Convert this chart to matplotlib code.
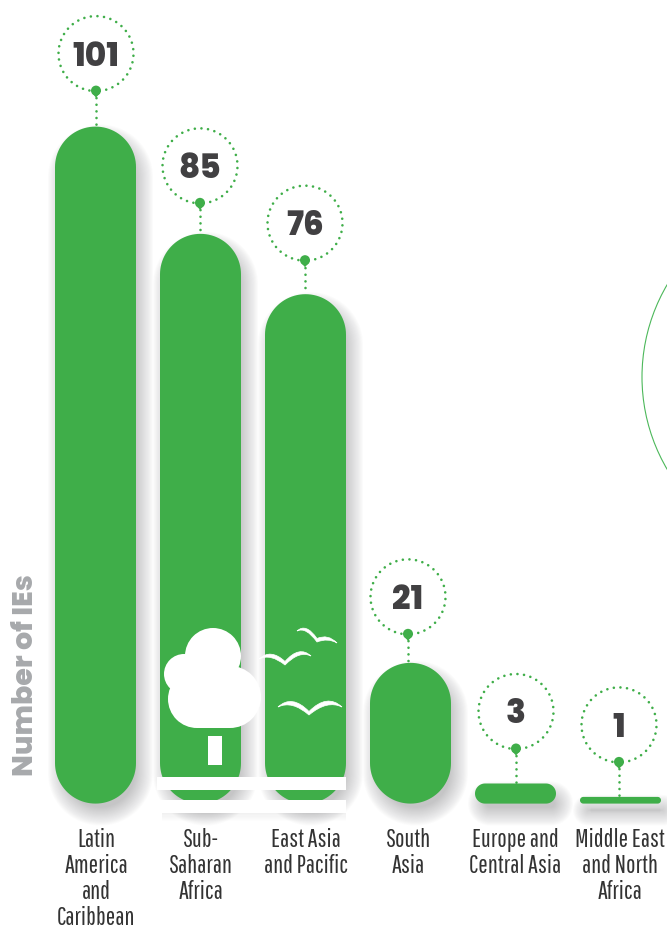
import numpy as np
import matplotlib
matplotlib.use("Agg")
import matplotlib.pyplot as plt
from matplotlib.path import Path
from matplotlib.patches import PathPatch, Circle, Rectangle, Polygon
from matplotlib.transforms import Affine2D

categories = ["Latin\nAmerica\nand\nCaribbean", "Sub-\nSaharan\nAfrica", "East Asia\nand Pacific",
              "South\nAsia", "Europe and\nCentral Asia", "Middle East\nand North\nAfrica"]
values = [101, 85, 76, 21, 3, 1]
y_label = "Number of IEs"

# layout (pixels)
W, H = 667, 928
BASE_PY = 804.6
PX_PER_UNIT = 6.703
PX_PER_CAT = 105
callout_dy = [73, 68, 71, 66, 72, 72]   # bar top to bubble centre
callout_dx = [0.5, -0.5, -0.5, -2.5, 0.5, -1.5]
label_dx = [0.5, 0.5, 0.5, -2.5, -0.5, -1]
GREEN = "#3fae49"
DARK = "#414042"
GREY = "#a7a9ac"
BAR_W = 81
R = 37.5
HEAVY = ["Poppins", "Montserrat", "Lato", "DejaVu Sans"]
NARROW = ["Pathway Gothic One", "Abel", "Archivo Narrow", "Liberation Sans", "DejaVu Sans"]

fig = plt.figure(figsize=(W / 100, H / 100), dpi=100, facecolor="white")
ax = fig.add_axes([0, (H - BASE_PY) / H, 1, BASE_PY / H])
x0 = 95.5 / PX_PER_CAT
ax.set_xlim(-x0, (W - 95.5) / PX_PER_CAT)
ax.set_ylim(0, BASE_PY / PX_PER_UNIT)
for s in ax.spines.values():
    s.set_visible(False)
ax.set_yticks([])
ax.patch.set_alpha(0)
px = Affine2D().scale(1, -1).translate(0, H)


def rounded(xc, top, width_px, grow=0.0, dx=0.0, dy=0.0):
    """Rounded bar outline in data units; grow/dx/dy in pixels."""
    hx = (width_px / 2 + grow) / PX_PER_CAT
    ux, uy = 1 / PX_PER_CAT, 1 / PX_PER_UNIT
    yb = -(grow + dy) * uy
    yt = top + (grow - dy) * uy
    r = min((width_px / 2 + grow), (yt - yb) / uy / 2)
    r = max(r, 0.5)
    xc = xc + dx * ux
    th = np.linspace(0, np.pi / 2, 24)
    rx, ry = r * ux, r * uy
    pts = []
    pts += list(zip(xc + hx - rx + rx * np.cos(th), yt - ry + ry * np.sin(th)))
    pts += list(zip(xc - hx + rx - rx * np.sin(th), yt - ry + ry * np.cos(th)))
    pts += list(zip(xc - hx + rx - rx * np.cos(th), yb + ry - ry * np.sin(th)))
    pts += list(zip(xc + hx - rx + rx * np.sin(th), yb + ry - ry * np.cos(th)))
    return Path(np.array(pts + [pts[0]]), closed=True)


# soft shadows
for i, v in enumerate(values):
    for g in np.linspace(12, -6, 18):
        ax.add_patch(PathPatch(rounded(i, v, BAR_W, grow=g, dx=5, dy=10), fc="#58595b", ec="none",
                               alpha=0.018, zorder=1, clip_on=False))

# bars
for i, v in enumerate(values):
    ax.add_patch(PathPatch(rounded(i, v, BAR_W), fc=GREEN, ec="none", zorder=2, clip_on=False))

# callouts
dots = (0, (0.01, 2.5))
for i, v in enumerate(values):
    cx = ax.transData.transform((i, v))[0] + callout_dx[i]
    top_py = H - ax.transData.transform((i, v))[1]
    cy = top_py - callout_dy[i]
    th = np.linspace(0.5 * np.pi, 2.5 * np.pi, 200)
    ax.plot(cx + R * np.cos(th), cy + R * np.sin(th), transform=px, color=GREEN, lw=1.9,
            ls=dots, dash_capstyle="round", zorder=3, clip_on=False)
    ax.plot([cx, cx], [cy + R, top_py], transform=px, color=GREEN, lw=1.9,
            ls=dots, dash_capstyle="round", zorder=3, clip_on=False)
    ax.add_patch(Circle((cx, cy + R - 0.5), 5, transform=px, fc=GREEN, ec="none", zorder=4))
    ax.add_patch(Polygon([[cx - 4, cy + R + 2], [cx + 4, cy + R + 2], [cx, cy + R + 6.5]], transform=px,
                         fc=GREEN, ec="none", zorder=4))
    ax.text(cx, cy + 3, str(v), transform=px, ha="center", va="center", fontsize=23.5,
            family=HEAVY, weight=800, color=DARK, zorder=5)

# white band decorations over the two bars
for y0, y1 in [(778, 791), (801, 813.5)]:
    ax.add_patch(Rectangle((157, y0), 189, y1 - y0, transform=px, fc="white", ec="none", zorder=6, clip_on=False))
for k in range(8):
    ax.add_patch(Rectangle((162, 813), 184, 1.2 * k + 1, transform=px, fc="#58595b", ec="none", alpha=0.012,
                           zorder=1.5, clip_on=False))

# tree
for c, r in [((213, 657), 28), ((184, 675), 20), ((197, 700), 29), ((230, 698), 31)]:
    ax.add_patch(Circle(c, r, transform=px, fc="white", ec="none", zorder=7))
ax.add_patch(Rectangle((197, 668), 33, 61, transform=px, fc="white", ec="none", zorder=7))
ax.add_patch(Rectangle((190, 650), 30, 30, transform=px, fc="white", ec="none", zorder=7))
ax.add_patch(Rectangle((208, 737), 14, 29, transform=px, fc="white", ec="none", zorder=7))


# birds
def bird(lx, ly, cx, cy, rx, ry):
    wl, wr = cx - lx, rx - cx
    topl = (lx + 0.45 * wl, min(ly, cy) - 0.42 * wl)
    topr = (cx + 0.55 * wr, min(ry, cy) - 0.42 * wr)
    verts = [(lx, ly), topl, (cx, cy - 3.5), topr, (rx, ry),
             (cx + 0.55 * wr, min(ry, cy) - 0.22 * wr), (cx, cy), (lx + 0.45 * wl, min(ly, cy) - 0.22 * wl), (lx, ly)]
    codes = [Path.MOVETO, Path.CURVE3, Path.CURVE3, Path.CURVE3, Path.CURVE3,
             Path.CURVE3, Path.CURVE3, Path.CURVE3, Path.CURVE3]
    ax.add_patch(PathPatch(Path(verts, codes), transform=px, fc="white", ec="white", lw=0.5, zorder=7))


bird(278, 708, 309, 716, 342, 708)
bird(259, 660, 285, 666, 311, 657)
bird(297, 632, 317, 643, 337, 644)

# large arc at the right edge
ax.add_patch(Circle((824, 378), 182, transform=px, fc="none", ec="#4cb85a", lw=0.8, zorder=2))

# axis text
ax.set_xticks(range(len(categories)))
ax.set_xticklabels(categories, family=NARROW, fontsize=18, color="#333333",
                   linespacing=1.1, ha="center", va="top")
ax.tick_params(axis="x", length=0, pad=17)
for t, d in zip(ax.get_xticklabels(), label_dx):
    t.set_transform(t.get_transform() + Affine2D().translate(d, 0))
ax.text(27, 675, y_label, transform=px, rotation=90, ha="center", va="center", fontsize=20.5,
        family=HEAVY, weight=800, color=GREY)

fig.savefig("out.png", dpi=100, facecolor="white")
